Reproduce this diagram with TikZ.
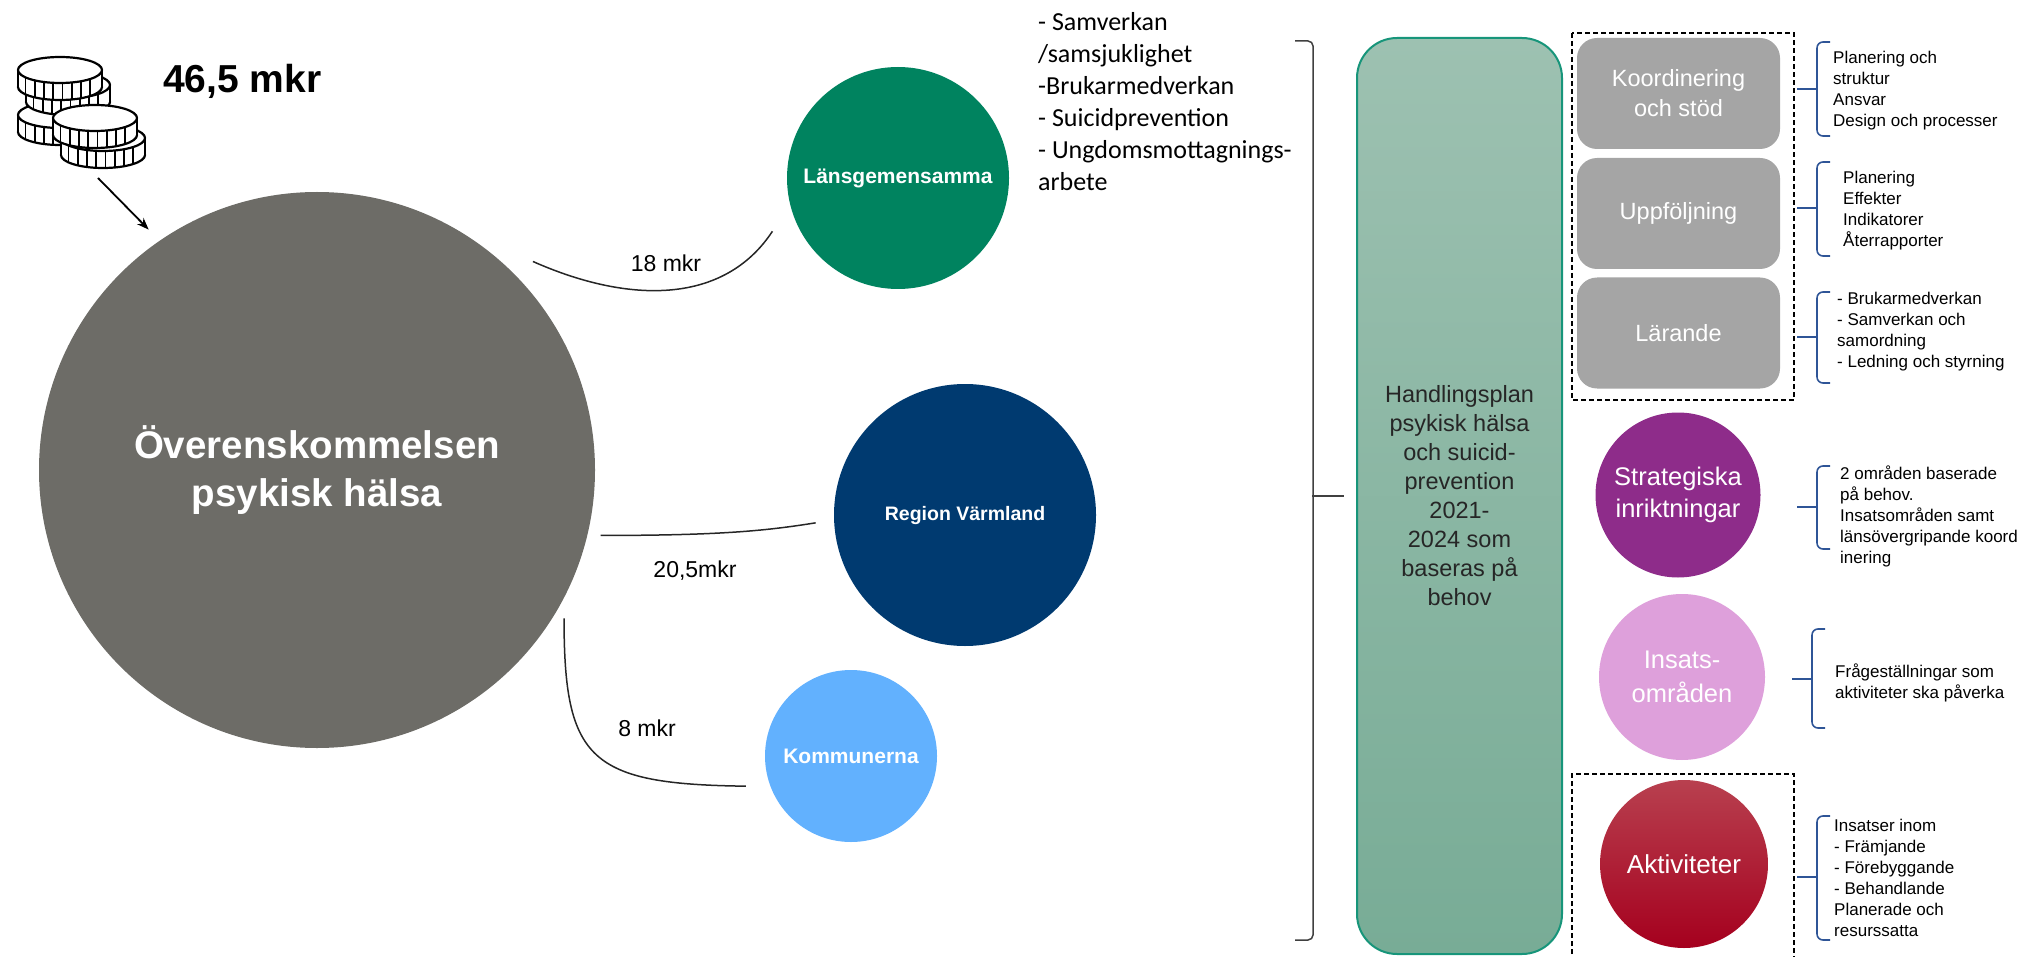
\documentclass[tikz,border=0pt]{standalone}
\usepackage{fontspec}
\setmainfont{Liberation Sans}
\newfontfamily\calibri{Carlito}
\usepackage{tikz}
\usetikzlibrary{arrows.meta, calc}
\definecolor{agreegray}{HTML}{6D6C67}
\definecolor{lansgreen}{HTML}{00835F}
\definecolor{regionblue}{HTML}{003A70}
\definecolor{kommunblue}{HTML}{62B1FE}
\definecolor{boxgray}{HTML}{A5A5A5}
\definecolor{stratpurple}{HTML}{8E2C8A}
\definecolor{insatspink}{HTML}{DEA0DB}
\definecolor{aktredtop}{HTML}{B8404F}
\definecolor{aktredbottom}{HTML}{A5001E}
\definecolor{bartop}{HTML}{9DC1B1}
\definecolor{barbottom}{HTML}{78AC96}
\definecolor{barline}{HTML}{17957A}
\definecolor{braceblue}{HTML}{2F5597}

% one coin of the stack: centre x, centre y (pixels, y downwards)
\newcommand{\coin}[2]{%
  \filldraw[fill=white, line width=2.2pt] (#1,-#2-17) ellipse [x radius=42, y radius=13];
  \fill[white] (#1-41,-#2) rectangle (#1+41,-#2-17);
  \draw[line width=2.2pt] (#1-42,-#2) -- (#1-42,-#2-17) (#1+42,-#2) -- (#1+42,-#2-17);
  \foreach \dd in {-0.82,-0.6,-0.38,-0.16,0.06,0.28,0.5,0.72} {
    \pgfmathsetmacro\sag{13*sqrt(1-\dd*\dd)}
    \pgfmathsetmacro\tx{#1+42*\dd}
    \draw[line width=1.6pt] (\tx,{-#2-\sag}) -- (\tx,{-#2-17-\sag});
  }
  \filldraw[fill=white, line width=2.2pt] (#1,-#2) ellipse [x radius=42, y radius=13];
}

\begin{document}
\begin{tikzpicture}[x=1pt, y=1pt,
    bubble/.style={circle, inner sep=0pt, text=white, align=center},
    money/.style={font=\fontsize{23}{28}\selectfont},
    link/.style={line width=1.5pt, draw=black!85},
    pillar/.style={rectangle, rounded corners=20pt, fill=boxgray, text=white,
      minimum width=203pt, minimum height=111pt, align=center,
      font=\fontsize{23.5}{30}\selectfont},
    dashbox/.style={draw=black, line width=1.3pt, dash pattern=on 5pt off 3pt},
    brace/.style={draw=braceblue, line width=1.6pt, rounded corners=6pt},
    note/.style={anchor=west, inner sep=0pt, align=left, font=\fontsize{17}{21}\selectfont}]

    \useasboundingbox (0,0) rectangle (2023,-957);

    % Coins and total
    \coin{60}{115}
    \coin{68}{85}
    \coin{60}{70}
    \coin{103}{138}
    \coin{95}{118}
    \node[anchor=west, inner sep=0pt, font=\fontsize{39}{44}\selectfont\bfseries] (total) at (163,-81) {46,5 mkr};

    % Agreement and the three receivers
    \node[bubble, fill=agreegray, minimum size=556pt, font=\fontsize{38.5}{48}\selectfont\bfseries] (big) at (317,-470) {Överenskommelsen\\psykisk hälsa};
    \node[bubble, fill=lansgreen, minimum size=222pt, font=\fontsize{21}{25}\selectfont\bfseries] (lans) at (898,-178) {Länsgemensamma};
    \node[bubble, fill=regionblue, minimum size=262pt, font=\fontsize{19.5}{24}\selectfont\bfseries] (regio) at (965,-515) {Region Värmland};
    \node[bubble, fill=kommunblue, minimum size=172pt, font=\fontsize{21}{25}\selectfont\bfseries] (kommun) at (851,-756) {Kommunerna};

    \coordinate (coinfoot) at (98,-178);
    \draw[line width=1.8pt, -{Stealth[length=12pt,width=9pt]}] (coinfoot) -- ($(big.center)!1.055!(big.125)$);

    % Money flows
    \coordinate (c1a) at ($(big.center)!1.079!(big.44)$);
    \coordinate (c1b) at ($(lans.center)!1.227!(lans.203)$);
    \draw[link] (c1a) .. controls +(97,-43) and +(-48,-73) .. (c1b);
    \node[money] (m18) at (666,-263) {18 mkr};

    \coordinate (c2a) at ($(big.center)!1.046!(big.-13)$);
    \coordinate (c2b) at ($(regio.center)!1.14!(regio.183)$);
    \draw[link] (c2a) .. controls +(120,0) and +(-50,-8) .. (c2b);
    \node[money] (m205) at (695,-571) {20,5mkr};

    \coordinate (c3a) at ($(big.center)!1.036!(big.-31)$);
    \coordinate (c3b) at ($(kommun.center)!1.27!(kommun.196)$);
    \draw[link] (c3a) .. controls +(0,-142) and +(-156,2) .. (c3b);
    \node[money] (m8) at (647,-728) {8 mkr};

    % Common themes
    \node[anchor=west, inner sep=0pt, align=left, font=\calibri\fontsize{26}{32}\selectfont] (themes) at (1038,-102)
      {- Samverkan\\/samsjuklighet\\-Brukarmedverkan\\- Suicidprevention\\- Ungdomsmottagnings-\\arbete};

    % Action plan
    \node[draw=barline, line width=2pt, top color=bartop, bottom color=barbottom, rounded corners=40pt,
      minimum width=205pt, minimum height=916pt, align=center, text=black!85,
      font=\fontsize{23.5}{29}\selectfont] (plan) at (1459.5,-496)
      {Handlingsplan\\psykisk hälsa\\och suicid-\\prevention\\2021-\\2024 som\\baseras på\\behov};
    \draw[line width=1.5pt, draw=black!75, rounded corners=5pt] (1295,-41) -- (1313,-41) -- (1313,-940) -- (1295,-940);
    \draw[line width=1.5pt, draw=black!75] ($(plan.west)+(-44,0)$) -- ($(plan.west)+(-12,0)$);

    % Support functions
    \node[pillar] (koord) at (1678.5,-93.5) {Koordinering\\och stöd};
    \node[pillar] (uppf) at (1678.5,-213.5) {Uppföljning};
    \node[pillar] (larande) at (1678.5,-333) {Lärande};
    \draw[dashbox] (1572,-33) rectangle (1794,-400);

    % Levels
    \node[bubble, fill=stratpurple, minimum size=165pt, font=\fontsize{25.5}{32}\selectfont] (strat) at (1678,-495) {Strategiska\\inriktningar};
    \node[bubble, fill=insatspink, minimum size=166pt, font=\fontsize{25.5}{33.5}\selectfont] (insats) at (1682,-677) {Insats-\\områden};
    \node[bubble, top color=aktredtop, bottom color=aktredbottom, minimum size=168pt, font=\fontsize{26}{32}\selectfont] (akt) at (1684,-864) {Aktiviteter};
    \draw[dashbox] (1572,-962) -- (1572,-774) -- (1794,-774) -- (1794,-962);

    % Braces and notes
    \foreach \btop/\btip/\bbot/\bx in {42/89/136/1817, 162/208/256/1817, 292/337/383/1817,
        466/507/549/1817, 629/679/728/1812, 816/877/940/1817} {
      \draw[brace] (\bx+13,-\btop) -- (\bx,-\btop) -- (\bx,-\bbot) -- (\bx+13,-\bbot);
      \draw[brace] (\bx-20,-\btip) -- (\bx,-\btip);
    }
    \node[note] (n1) at (1833,-90.5) {Planering och\\struktur\\Ansvar\\Design och processer};
    \node[note] (n2) at (1843,-211) {Planering\\Effekter\\Indikatorer\\Återrapporter};
    \node[note] (n3) at (1837,-331.5) {- Brukarmedverkan\\- Samverkan och\\samordning\\- Ledning och styrning};
    \node[note] (n4) at (1840,-516.5) {2 områden baserade\\på behov.\\Insatsområden samt\\länsövergripande koord\\inering};
    \node[note] (n5) at (1835,-683) {Frågeställningar som\\aktiviteter ska påverka};
    \node[note] (n6) at (1834,-877.5) {Insatser inom\\- Främjande\\- Förebyggande\\- Behandlande\\Planerade och\\resurssatta};

\end{tikzpicture}
\end{document}
